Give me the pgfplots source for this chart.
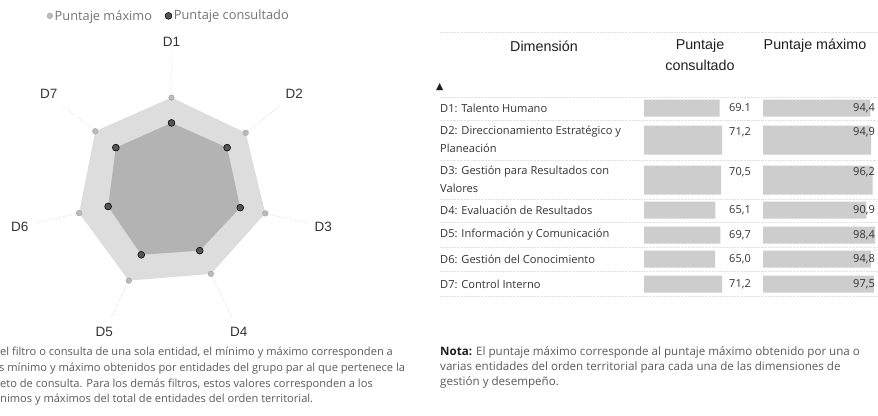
\documentclass[border=0pt]{standalone}
\usepackage{fontspec}
\setmainfont{Liberation Sans}
\newfontfamily\seg{Open Sans}
\newfontfamily\dejavu{DejaVu Sans}
\usepackage{pgfplots}
\pgfplotsset{compat=1.18}
\usepgfplotslibrary{polar}
\definecolor{maxfill}{HTML}{DDDDDD}
\definecolor{consfill}{HTML}{B3B3B3}
\definecolor{maxmark}{HTML}{BBBBBB}
\definecolor{consmark}{HTML}{555555}
\definecolor{barc}{HTML}{CDCDCD}
\definecolor{txt}{HTML}{333333}
\definecolor{hdr}{HTML}{1E1E1E}
\definecolor{note}{HTML}{5A5A5A}
\definecolor{sep}{HTML}{E2E2E2}
\begin{document}
\begin{tikzpicture}
\useasboundingbox (0,0) rectangle (878pt,-415pt);
% ---------------- radar ----------------
\begin{polaraxis}[
  at={(171.5pt,-192pt)}, anchor=center,
  scale only axis, width=280pt, height=280pt,
  ymin=0, ymax=140, xmin=0, xmax=360,
  xtick={90,38.571,347.143,295.714,244.286,192.857,141.429},
  xticklabels={D1,D2,D3,D4,D5,D6,D7},
  xticklabel style={font=\fontsize{13.5}{15}\selectfont, text=txt, inner sep=5pt},
  ytick=\empty,
  xmajorgrids, major grid style={densely dotted, gray!50},
  axis line style={draw=none},
  major tick style={draw=none},
  legend columns=-1,
  legend style={at={(0.055,1.129)}, anchor=west, draw=none, fill=none,
    font=\seg\fontsize{12.8}{15}\selectfont\color{note!85},
    /tikz/every even column/.append style={column sep=11pt},
    /tikz/every odd column/.append style={column sep=0pt},
    inner sep=0pt},
  legend cell align=left,
]
\addplot[fill=maxfill, draw=none, forget plot] coordinates {
 (90,94.4) (38.571,94.9) (347.143,96.2) (295.714,90.9) (244.286,98.4) (192.857,94.8) (141.429,97.5) (90,94.4)};
\addplot[fill=consfill, draw=none, forget plot] coordinates {
 (90,69.1) (38.571,71.2) (347.143,70.5) (295.714,65.1) (244.286,69.7) (192.857,65.0) (141.429,71.2) (90,69.1)};
\addplot[only marks, mark=*, mark size=2.8pt, mark options={fill=maxmark, draw=maxmark!85!black}] coordinates {
 (90,94.4) (38.571,94.9) (347.143,96.2) (295.714,90.9) (244.286,98.4) (192.857,94.8) (141.429,97.5)};
\addlegendentry{Puntaje máximo}
\addplot[only marks, mark=*, mark size=3.4pt, mark options={fill=consmark, draw=black, line width=0.6pt}] coordinates {
 (90,69.1) (38.571,71.2) (347.143,70.5) (295.714,65.1) (244.286,69.7) (192.857,65.0) (141.429,71.2)};
\addlegendentry{Puntaje consultado}
\end{polaraxis}
% ---------------- left note ----------------
\begin{scope}[every node/.style={anchor=west, inner sep=0pt, font=\seg\fontsize{11.1}{12}\selectfont, text=note}]
\node at (0pt,-353pt) {el filtro o consulta de una sola entidad, el mínimo y máximo corresponden a};
\node at (-1pt,-369pt) {s mínimo y máximo obtenidos por entidades del grupo par al que pertenece la};
\node at (0pt,-385pt) {eto de consulta. Para los demás filtros, estos valores corresponden a los};
\node at (0pt,-400pt) {nimos y máximos del total de entidades del orden territorial.};
\end{scope}
% ---------------- table header ----------------
\draw[sep, densely dotted] (440pt,-32pt) -- (878pt,-32pt);
\begin{scope}[every node/.style={inner sep=0pt, font=\fontsize{14.3}{16}\selectfont, text=hdr}]
\node at (544pt,-46pt) {Dimensión};
\node at (700pt,-46pt) {Puntaje};
\node at (700pt,-65pt) {consultado};
\node at (815pt,-46pt) {Puntaje máximo};
\end{scope}
\node[anchor=west, inner sep=0pt, text=hdr] at (436pt,-87pt) {\dejavu\fontsize{9.5}{10}\selectfont ▲};
% separators
\foreach \yy in {97,120,160,199,222,247,271,296}
  \draw[sep, densely dotted] (440pt,-\yy pt) -- (878pt,-\yy pt);
% row labels
\begin{scope}[every node/.style={anchor=west, inner sep=0pt, font=\seg\fontsize{11.1}{12}\selectfont, text=txt}]
\node at (440pt,-108pt) {D1: Talento Humano};
\node at (440pt,-132pt) {D2: Direccionamiento Estratégico y};
\node at (440pt,-148pt) {Planeación};
\node at (440pt,-172pt) {D3: Gestión para Resultados con};
\node at (440pt,-188pt) {Valores};
\node at (440pt,-210pt) {D4: Evaluación de Resultados};
\node at (440pt,-235pt) {D5: Información y Comunicación};
\node at (440pt,-259pt) {D6: Gestión del Conocimiento};
\node at (440pt,-284pt) {D7: Control Interno};
\end{scope}
% ---------------- data bars: consultado ----------------
\begin{axis}[
  at={(644pt,-90pt)}, anchor=north west,
  scale only axis, width=78pt, height=210pt,
  xmin=0, xmax=71.2, ymin=90, ymax=300, y dir=reverse,
  hide axis, clip=false]
\addplot[xbar, bar shift=0pt, bar width=17pt, fill=barc, draw=none] coordinates {
 (69.1,108) (65.1,210) (69.7,235) (65.0,259) (71.2,284)};
\addplot[xbar, bar shift=0pt, bar width=29pt, fill=barc, draw=none] coordinates {
 (71.2,140) (70.5,180)};
\end{axis}
% ---------------- data bars: maximo ----------------
\begin{axis}[
  at={(763pt,-90pt)}, anchor=north west,
  scale only axis, width=112pt, height=210pt,
  xmin=0, xmax=98.4, ymin=90, ymax=300, y dir=reverse,
  hide axis, clip=false]
\addplot[xbar, bar shift=0pt, bar width=17pt, fill=barc, draw=none] coordinates {
 (94.4,108) (90.9,210) (98.4,235) (94.8,259) (97.5,284)};
\addplot[xbar, bar shift=0pt, bar width=29pt, fill=barc, draw=none] coordinates {
 (94.9,140) (96.2,180)};
\end{axis}
% values
\begin{scope}[every node/.style={anchor=east, inner sep=0pt, font=\seg\fontsize{11}{12}\selectfont, text=txt}]
\node at (751pt,-108pt) {69.1};
\node at (751pt,-132pt) {71,2};
\node at (751pt,-172pt) {70,5};
\node at (751pt,-210pt) {65,1};
\node at (751pt,-235pt) {69,7};
\node at (751pt,-259pt) {65,0};
\node at (751pt,-284pt) {71,2};
\node at (875pt,-108pt) {94,4};
\node at (875pt,-132pt) {94,9};
\node at (875pt,-172pt) {96,2};
\node at (875pt,-210pt) {90,9};
\node at (875pt,-235pt) {98,4};
\node at (875pt,-259pt) {94,8};
\node at (875pt,-284pt) {97,5};
\end{scope}
% ---------------- right note ----------------
\begin{scope}[every node/.style={anchor=west, inner sep=0pt, font=\seg\fontsize{11.6}{12}\selectfont, text=note}]
\node at (440pt,-352pt) {\textbf{\color{hdr}Nota:} El puntaje máximo corresponde al puntaje máximo obtenido por una o};
\node at (440pt,-367pt) {varias entidades del orden territorial para cada una de las dimensiones de};
\node at (440pt,-382pt) {gestión y desempeño.};
\end{scope}
\end{tikzpicture}
\end{document}
